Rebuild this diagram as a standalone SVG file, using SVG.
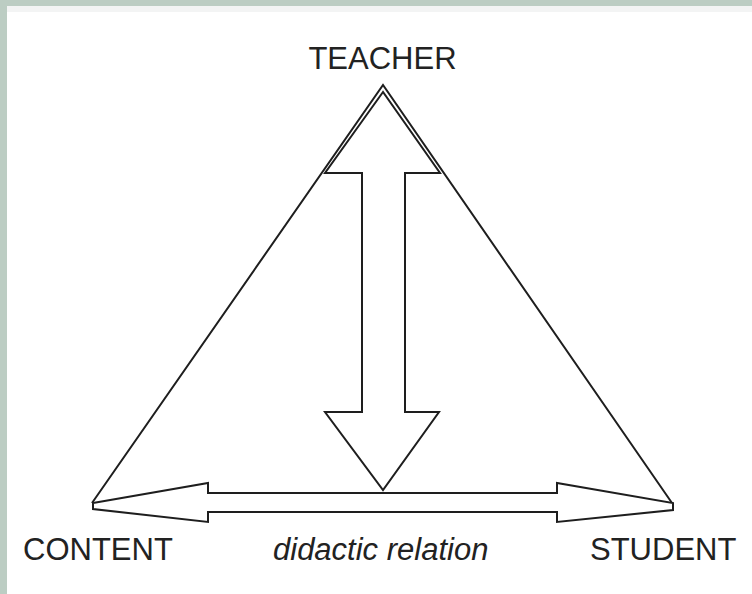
<svg xmlns="http://www.w3.org/2000/svg" width="752" height="594" viewBox="0 0 752 594">
  <style>
    .ln { fill: none; stroke: #1e1e1e; stroke-width: 2; stroke-linejoin: miter; }
    .ar { fill: #fff; stroke: #1e1e1e; stroke-width: 2; stroke-linejoin: miter; }
    .lbl { font-family: "Liberation Sans", Arial, sans-serif; font-size: 31px; fill: #222; }
    .it { font-style: italic; }
  </style>
  <rect x="0" y="0" width="752" height="594" fill="#fff"/>
  <rect x="7" y="6" width="745" height="6" fill="#f3f4f4"/>
  <rect x="0" y="0" width="752" height="6" fill="#bccdc3"/>
  <rect x="0" y="0" width="7" height="594" fill="#bccdc3"/>
  <g id="connectors">
    <polyline class="ln" points="92,503 383,85 672,503"/>
    <polygon id="vertical-arrow" class="ar" points="383,92 325,173 362,173 362,412 325,412 383,490 439,412 405,412 405,173 440,173"/>
    <polygon id="horizontal-arrow" class="ar" points="93,503 208,483 208,493 557,493 557,483 673,503 673,510 557,522 557,512 208,512 208,522 93,509"/>
  </g>
  <g id="teacher">
    <text class="lbl" x="382.5" y="69" text-anchor="middle">TEACHER</text>
  </g>
  <g id="content">
    <text class="lbl" x="23" y="560">CONTENT</text>
  </g>
  <g id="relation">
    <text class="lbl it" x="273" y="560">didactic relation</text>
  </g>
  <g id="student">
    <text class="lbl" x="590" y="560">STUDENT</text>
  </g>
</svg>
